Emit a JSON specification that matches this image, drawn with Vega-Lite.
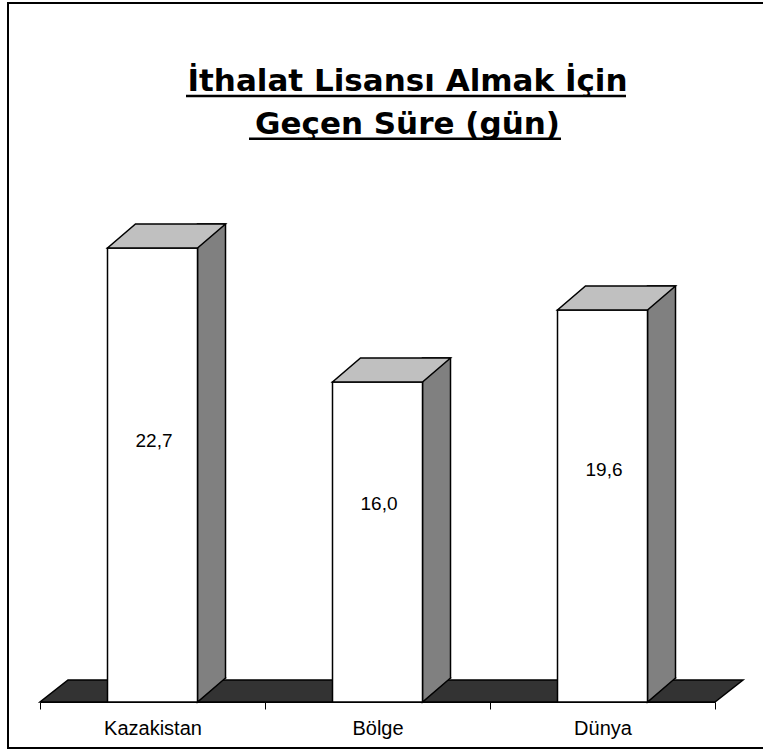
{
  "$schema": "https://vega.github.io/schema/vega-lite/v6.json",
  "width": 758,
  "height": 745,
  "autosize": "none",
  "padding": {"left": 8, "top": 3, "right": -3, "bottom": 2},
  "background": "white",
  "title": {
    "text": ["İthalat Lisansı Almak İçin", "Geçen Süre (gün)"],
    "font": "DejaVu Sans",
    "fontSize": 31,
    "fontWeight": "bold",
    "color": "black",
    "anchor": "middle",
    "frame": "group",
    "dx": 20.5,
    "offset": -138,
    "lineHeight": 43
  },
  "data": {"values": [
    {"cat": "Kazakistan", "value": 22.7},
    {"cat": "Bölge", "value": 16.0},
    {"cat": "Dünya", "value": 19.6}
  ]},
  "layer": [
    {
      "layer": [
        {
          "data": {"values": [{}]},
          "mark": {"type": "point", "shape": "M-3.375,0L3.375,0L3.655,-0.22L-3.095,-0.22Z", "size": 40000, "filled": true, "fill": "#333333", "stroke": "black", "strokeWidth": 1.5, "opacity": 1},
          "encoding": {
            "x": {"datum": "Bölge", "type": "nominal", "title": null, "scale": {"type": "band", "domain": ["Kazakistan", "Bölge", "Dünya"], "range": [32, 707], "paddingInner": 0, "paddingOuter": 0}},
            "y": {"datum": 0, "type": "quantitative", "scale": {"domain": [0, 30], "range": [699, 99], "nice": false, "zero": false}, "axis": null}
          }
        },
        {
          "mark": {"type": "bar", "width": 28, "xOffset": 59, "yOffset": -24, "y2Offset": -24, "fill": "#808080", "stroke": "black", "strokeWidth": 1.5},
          "encoding": {
            "x": {"field": "cat", "type": "nominal", "title": null, "sort": null, "scale": {"type": "band", "domain": ["Kazakistan", "Bölge", "Dünya"], "range": [32, 707], "paddingInner": 0, "paddingOuter": 0}},
            "y": {"field": "value", "type": "quantitative", "scale": {"domain": [0, 30], "range": [699, 99], "nice": false, "zero": false}, "axis": null}
          }
        },
        {
          "mark": {"type": "point", "shape": "M0.73,-0.25L0.73,-0.24L0.45,0L0.45,-0.25", "size": 40000, "filled": true, "fill": "#808080", "stroke": "black", "strokeWidth": 1.5, "opacity": 1},
          "encoding": {
            "x": {"field": "cat", "type": "nominal", "title": null, "sort": null, "scale": {"type": "band", "domain": ["Kazakistan", "Bölge", "Dünya"], "range": [32, 707], "paddingInner": 0, "paddingOuter": 0}},
            "y": {"datum": 0, "type": "quantitative", "scale": {"domain": [0, 30], "range": [699, 99], "nice": false, "zero": false}, "axis": null}
          }
        },
        {
          "mark": {"type": "bar", "width": 90, "fill": "white", "stroke": "black", "strokeWidth": 1.5},
          "encoding": {
            "x": {"field": "cat", "type": "nominal", "title": null, "sort": null, "scale": {"type": "band", "domain": ["Kazakistan", "Bölge", "Dünya"], "range": [32, 707], "paddingInner": 0, "paddingOuter": 0}},
            "y": {"field": "value", "type": "quantitative", "scale": {"domain": [0, 30], "range": [699, 99], "nice": false, "zero": false}, "axis": null}
          }
        },
        {
          "mark": {"type": "point", "shape": "M-0.45,0L0.45,0L0.73,-0.24L-0.17,-0.24Z", "size": 40000, "filled": true, "fill": "#c0c0c0", "stroke": "black", "strokeWidth": 1.5, "opacity": 1},
          "encoding": {
            "x": {"field": "cat", "type": "nominal", "title": null, "sort": null, "scale": {"type": "band", "domain": ["Kazakistan", "Bölge", "Dünya"], "range": [32, 707], "paddingInner": 0, "paddingOuter": 0}},
            "y": {"field": "value", "type": "quantitative", "scale": {"domain": [0, 30], "range": [699, 99], "nice": false, "zero": false}, "axis": null}
          }
        },
        {
          "data": {"values": [{}]},
          "mark": {"type": "rule", "stroke": "black", "strokeWidth": 2.6, "strokeCap": "butt", "xOffset": 33.5, "x2Offset": 23.5},
          "encoding": {
            "x": {"datum": "Kazakistan", "type": "nominal", "title": null, "scale": {"type": "band", "domain": ["Kazakistan", "Bölge", "Dünya"], "range": [32, 707], "paddingInner": 0, "paddingOuter": 0}},
            "x2": {"datum": "Dünya"},
            "y": {"datum": 30.3, "type": "quantitative", "scale": {"domain": [0, 30], "range": [699, 99], "nice": false, "zero": false}, "axis": null}
          }
        },
        {
          "data": {"values": [{}]},
          "mark": {"type": "rule", "stroke": "black", "strokeWidth": 2.6, "strokeCap": "butt", "xOffset": 96.5, "x2Offset": -41.5},
          "encoding": {
            "x": {"datum": "Kazakistan", "type": "nominal", "title": null, "scale": {"type": "band", "domain": ["Kazakistan", "Bölge", "Dünya"], "range": [32, 707], "paddingInner": 0, "paddingOuter": 0}},
            "x2": {"datum": "Dünya"},
            "y": {"datum": 28.16, "type": "quantitative", "scale": {"domain": [0, 30], "range": [699, 99], "nice": false, "zero": false}, "axis": null}
          }
        }
      ]
    },
    {
      "mark": {"type": "text", "font": "Liberation Sans", "fontSize": 19, "color": "black", "baseline": "middle", "align": "center", "dx": 1.5},
      "encoding": {
        "x": {"field": "cat", "type": "nominal", "title": null, "sort": null, "scale": {"type": "band", "domain": ["Kazakistan", "Bölge", "Dünya"], "range": [32, 707], "paddingInner": 0, "paddingOuter": 0}},
        "y": {"field": "value", "type": "quantitative", "scale": {"domain": [0, 50], "range": [651, 181], "nice": false, "zero": false}, "axis": null},
        "text": {"field": "value", "type": "quantitative", "format": ".1f"}
      }
    }
  ],
  "resolve": {"scale": {"y": "independent"}},
  "config": {
    "locale": {"number": {"decimal": ",", "thousands": ".", "grouping": [3], "currency": ["", " TL"]}},
    "view": {"stroke": "black", "strokeWidth": 2, "fill": "white"},
    "axisX": {
      "tickBand": "extent",
      "offset": -46,
      "domainColor": "black",
      "domainWidth": 1,
      "tickColor": "black",
      "tickWidth": 1,
      "tickSize": 7,
      "labelFont": "Liberation Sans",
      "labelFontSize": 20,
      "labelColor": "black",
      "labelPadding": 9,
      "labelAngle": 0,
      "grid": false
    }
  }
}
